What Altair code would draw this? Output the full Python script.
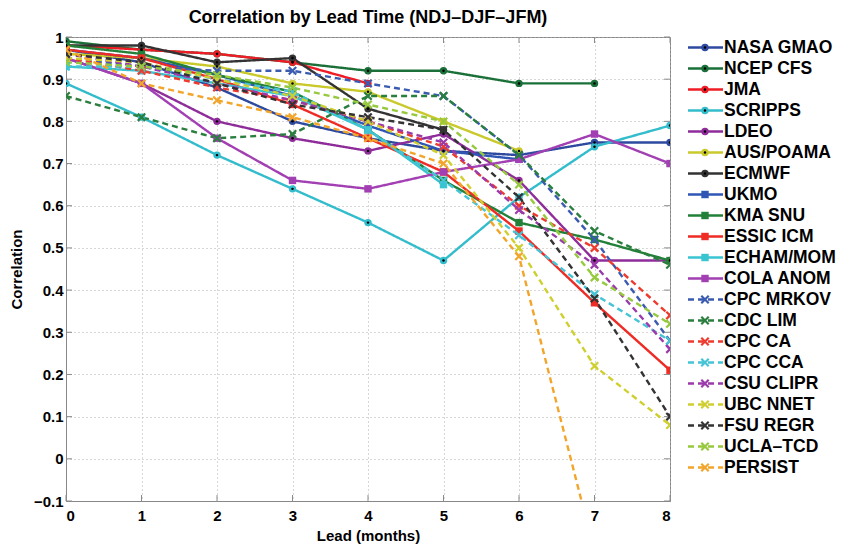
import altair as alt
import pandas as pd

leads = [0, 1, 2, 3, 4, 5, 6, 7, 8]
y_ticks = [-0.1, 0, 0.1, 0.2, 0.3, 0.4, 0.5, 0.6, 0.7, 0.8, 0.9, 1]

names = ["NASA GMAO", "NCEP CFS", "JMA", "SCRIPPS", "LDEO", "AUS/POAMA", "ECMWF",
         "UKMO", "KMA SNU", "ESSIC ICM", "ECHAM/MOM", "COLA ANOM",
         "CPC MRKOV", "CDC LIM", "CPC CA", "CPC CCA", "CSU CLIPR", "UBC NNET",
         "FSU REGR", "UCLA\u2013TCD", "PERSIST"]
colors = ["#2e4a9e", "#1a7038", "#ee1c25", "#33bccc", "#8e2d9a", "#c9c92c", "#333333",
          "#2f55b5", "#228038", "#ee2b24", "#39c4d2", "#a23fb3",
          "#3a5bb0", "#2a7f3e", "#ee3b30", "#45c4d6", "#9a3aab", "#cfcf30",
          "#333333", "#96c93d", "#f2a52a"]
markers = ["circle"] * 7 + ["square"] * 5 + ["x"] * 9
styles = ["solid"] * 12 + ["dashed"] * 9

nasa_gmao = [0.97, 0.94, 0.88, 0.80, 0.76, 0.73, 0.72, 0.75, 0.75]
ncep_cfs = [0.99, 0.97, 0.96, 0.94, 0.92, 0.92, 0.89, 0.89, None]
jma = [0.98, 0.97, 0.96, 0.94, 0.89, None, None, None, None]
scripps = [0.89, 0.81, 0.72, 0.64, 0.56, 0.47, 0.62, 0.74, 0.79]
ldeo = [0.95, 0.89, 0.80, 0.76, 0.73, 0.77, 0.66, 0.47, 0.47]
aus_poama = [0.96, 0.95, 0.93, 0.89, 0.87, 0.80, 0.73, None, None]
ecmwf = [0.98, 0.98, 0.94, 0.95, 0.83, 0.78, None, None, None]
ukmo = [0.97, 0.95, 0.91, 0.86, 0.79, 0.73, 0.71, None, None]
kma_snu = [0.98, 0.96, 0.91, 0.87, 0.78, 0.66, 0.56, 0.52, 0.47]
essic_icm = [0.97, 0.95, 0.90, 0.84, 0.76, 0.68, 0.54, 0.37, 0.21]
echam_mom = [0.93, 0.92, 0.89, 0.86, 0.78, 0.65, None, None, None]
cola_anom = [0.95, 0.89, 0.76, 0.66, 0.64, 0.68, 0.71, 0.77, 0.70]
cpc_mrkov = [0.95, 0.93, 0.92, 0.92, 0.89, 0.86, 0.72, 0.52, 0.28]
cdc_lim = [0.86, 0.81, 0.76, 0.77, 0.86, 0.86, 0.72, 0.54, 0.46]
cpc_ca = [0.95, 0.92, 0.88, 0.85, 0.80, 0.74, 0.60, 0.50, 0.34]
cpc_cca = [0.93, 0.93, 0.90, 0.87, 0.78, 0.66, 0.53, 0.39, 0.28]
csu_clipr = [0.96, 0.93, 0.89, 0.85, 0.80, 0.75, 0.59, 0.46, 0.26]
ubc_nnet = [0.95, 0.94, 0.90, 0.86, 0.80, 0.72, 0.50, 0.22, 0.08]
fsu_regr = [0.96, 0.94, 0.89, 0.84, 0.81, 0.78, 0.62, 0.38, 0.10]
ucla_tcd = [0.94, 0.93, 0.91, 0.88, 0.84, 0.80, 0.65, 0.43, 0.32]
persist = [0.97, 0.89, 0.85, 0.81, 0.76, 0.70, 0.48, -0.22, None]

series = [nasa_gmao, ncep_cfs, jma, scripps, ldeo, aus_poama, ecmwf, ukmo, kma_snu,
          essic_icm, echam_mom, cola_anom, cpc_mrkov, cdc_lim, cpc_ca, cpc_cca,
          csu_clipr, ubc_nnet, fsu_regr, ucla_tcd, persist]

rows = []
for i, (nm, vals) in enumerate(zip(names, series)):
    for ld, v in zip(leads, vals):
        if v is not None:
            rows.append({"name": nm, "idx": i, "lead": ld, "corr": v,
                         "marker": markers[i], "style": styles[i]})
df = pd.DataFrame(rows)
leg = pd.DataFrame({"name": names, "idx": list(range(len(names))),
                    "marker": markers, "style": styles})
xt = pd.DataFrame({"lead": leads})
yt = pd.DataFrame({"corr": y_ticks})

W, H = 604, 464
FONT = "Liberation Sans"
XPATH = "M-1,-1L1,1M-1,1L1,-1"
TICK = "#8a8a8a"

color = alt.Color("name:N", scale=alt.Scale(domain=names, range=colors), legend=None)
dash = alt.StrokeDash("style:N", scale=alt.Scale(domain=["solid", "dashed"],
                                                 range=[[1, 0], [6, 4]]), legend=None)

xenc = alt.X("lead:Q", scale=alt.Scale(domain=[0, 8], nice=False),
             axis=alt.Axis(values=leads, format="d", title="Lead (months)",
                           grid=True, gridDash=[1, 3], gridColor="#b0b0b0",
                           domainColor="#888888", ticks=False, labelPadding=7,
                           titlePadding=5))
yenc = alt.Y("corr:Q", scale=alt.Scale(domain=[-0.1, 1], nice=False, zero=False),
             axis=alt.Axis(values=y_ticks, labelExpr="format(datum.value, '.1~f')",
                           title="Correlation", grid=True, gridDash=[1, 3],
                           gridColor="#b0b0b0", domainColor="#888888", ticks=False,
                           labelPadding=3, titlePadding=9))

base = alt.Chart(df)
lines = base.mark_line(strokeWidth=2.4, clip=True).encode(
    x=xenc, y=yenc, color=color, strokeDash=dash, detail="name:N", order="lead:Q")
filled_pts = base.transform_filter("datum.marker != 'x'").mark_point(
    filled=True, size=55, opacity=1, clip=True).encode(
    x="lead:Q", y="corr:Q", color=color,
    shape=alt.Shape("marker:N", scale=alt.Scale(domain=["circle", "square"],
                                                range=["circle", "square"]), legend=None))
dots = base.transform_filter("datum.marker == 'circle'").mark_point(
    filled=True, size=6, opacity=1, color="black", clip=True).encode(x="lead:Q", y="corr:Q")
x_pts = base.transform_filter("datum.marker == 'x'").mark_point(
    shape=XPATH, size=55, strokeWidth=2.2, filled=False, opacity=1, clip=True).encode(
    x="lead:Q", y="corr:Q", color=color)

# inward tick marks on all four sides (MATLAB-style box)
xt_bot = alt.Chart(xt).mark_rule(color=TICK, strokeWidth=1).encode(
    x="lead:Q", y=alt.value(H), y2=alt.value(H - 6))
xt_top = alt.Chart(xt).mark_rule(color=TICK, strokeWidth=1).encode(
    x="lead:Q", y=alt.value(0), y2=alt.value(6))
yt_left = alt.Chart(yt).mark_rule(color=TICK, strokeWidth=1).encode(
    y="corr:Q", x=alt.value(0), x2=alt.value(6))
yt_right = alt.Chart(yt).mark_rule(color=TICK, strokeWidth=1).encode(
    y="corr:Q", x=alt.value(W), x2=alt.value(W - 6))

main = alt.layer(lines, xt_bot, xt_top, yt_left, yt_right,
                 filled_pts, dots, x_pts).properties(
    width=W, height=H,
    title=alt.TitleParams("Correlation by Lead Time (NDJ\u2013DJF\u2013JFM)",
                          fontSize=18, font=FONT, fontWeight="bold", offset=3))

lbase = alt.Chart(leg)
ly = alt.Y("idx:Q", scale=alt.Scale(domain=[-0.5, 20.5], reverse=True, nice=False,
                                    zero=False), axis=None)
lrule = lbase.mark_rule(strokeWidth=2.6).encode(
    x=alt.value(12), x2=alt.value(47), y=ly, color=color,
    strokeDash=alt.StrokeDash("style:N", scale=alt.Scale(domain=["solid", "dashed"],
                                                         range=[[1, 0], [5, 7]]), legend=None))
lfill = lbase.transform_filter("datum.marker != 'x'").mark_point(
    filled=True, size=55, opacity=1).encode(
    x=alt.value(29), y=ly, color=color,
    shape=alt.Shape("marker:N", scale=alt.Scale(domain=["circle", "square"],
                                                range=["circle", "square"]), legend=None))
ldot = lbase.transform_filter("datum.marker == 'circle'").mark_point(
    filled=True, size=6, opacity=1, color="black").encode(x=alt.value(29), y=ly)
lx = lbase.transform_filter("datum.marker == 'x'").mark_point(
    shape=XPATH, size=55, strokeWidth=2.2, filled=False, opacity=1).encode(
    x=alt.value(29), y=ly, color=color)
ltext = lbase.mark_text(align="left", baseline="middle", font=FONT, fontSize=17.5,
                        fontWeight="bold", color="black").encode(
    x=alt.value(48), y=ly, text="name:N")
legend = alt.layer(lrule, lfill, ldot, lx, ltext).properties(
    width=155, height=441, view=alt.ViewBackground(stroke=None))

chart = alt.hconcat(main, legend, spacing=5).properties(padding=0).configure(
    font=FONT, background="white"
).configure_view(stroke="#888888").configure_axis(
    labelFont=FONT, titleFont=FONT, labelFontWeight="bold", titleFontWeight="bold",
    labelFontSize=15, titleFontSize=15, labelColor="black", titleColor="black")

chart.save("out.html", embed_options={"renderer": "svg", "actions": False})
